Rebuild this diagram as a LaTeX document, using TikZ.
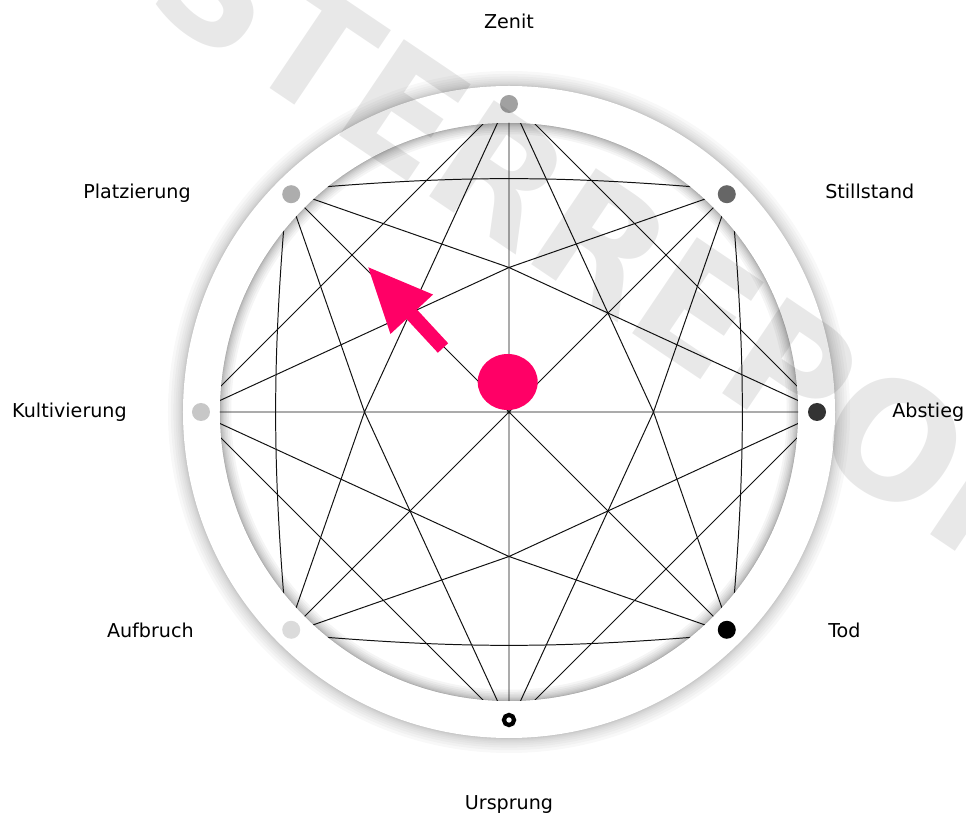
\documentclass[tikz,border=0pt]{standalone}
\usepackage{fontspec}
\setmainfont{DejaVu Sans}
\setsansfont{DejaVu Sans}
\newfontfamily\wmfont{DejaVu Sans}
\usetikzlibrary{positioning}
\definecolor{hot}{HTML}{FF0066}
\definecolor{ink}{HTML}{111111}
\tikzset{
  chord/.style={draw=ink,line width=0.7pt},
  dot/.style={circle,fill=#1,inner sep=0pt,minimum size=12.8pt},
  dot/.default=black,
  lbl/.style={font=\fontsize{13.6}{16}\selectfont,inner sep=0pt},
}

\begin{document}
\begin{tikzpicture}[x=0.025cm,y=0.025cm]
  \useasboundingbox (-509,-402) rectangle (457,412);
  % soft shadow round the ring
  \foreach \i in {1,...,10}
    \fill[black,opacity=0.026] (0,0) circle ({326+0.15*\i*\i});
  \fill[white] (0,0) circle (326);
  \begin{scope}
    \clip (0,0) circle (289);
    \foreach \i in {1,...,10}
      \draw[black,opacity=0.04,line width=0.16pt*\i*\i] (0,0) circle (289);
  \end{scope}

  % end points of the chords
  \coordinate (zen) at (90:314);
  \coordinate (sti) at (45:314);
  \coordinate (abs) at (0:314);
  \coordinate (tod) at (-45:314);
  \coordinate (urs) at (-90:314);
  \coordinate (auf) at (-135:314);
  \coordinate (kul) at (180:314);
  \coordinate (pla) at (135:314);
  \coordinate (vt) at (0,144.5);
  \coordinate (vr) at (144.5,0);
  \coordinate (vb) at (0,-144.5);
  \coordinate (vl) at (-144.5,0);

  \begin{scope}
    \clip (0,0) circle (289);
    \draw[chord] (zen) -- (urs) (kul) -- (abs) (pla) -- (tod) (sti) -- (auf);
    \draw[chord] (zen) -- (kul) -- (urs) -- (abs) -- cycle;
    \draw[chord] (pla) to[bend left=5] (sti) to[bend left=5] (tod)
                       to[bend left=5] (auf) to[bend left=5] (pla);
    \draw[chord] (pla) -- (vt) -- (sti) (kul) -- (vt) -- (abs);
    \draw[chord] (zen) -- (vl) -- (urs) (pla) -- (vl) -- (auf);
    \draw[chord] (auf) -- (vb) -- (tod) (kul) -- (vb) -- (abs);
    \draw[chord] (zen) -- (vr) -- (urs) (sti) -- (vr) -- (tod);
  \end{scope}

  % phases on the ring
  \node[dot=black!37] (zen-d) at (90:308) {};
  \node[dot=black!60] (sti-d) at (45:308) {};
  \node[dot=black!80] (abs-d) at (0:308) {};
  \node[dot] (tod-d) at (-45:308) {};
  \node[circle,draw=black,fill=white,line width=3pt,inner sep=0pt,minimum size=7.2pt] (urs-d) at (-90:308) {};
  \node[dot=black!14] (auf-d) at (-135:308) {};
  \node[dot=black!22] (kul-d) at (180:308) {};
  \node[dot=black!32] (pla-d) at (135:308) {};

  \node[lbl,anchor=base] (zen-l) at (0,383) {Zenit};
  \node[lbl,anchor=base west] (sti-l) at (316,213) {Stillstand};
  \node[lbl,anchor=base west] (abs-l) at (383,-6) {Abstieg};
  \node[lbl,anchor=base west] (tod-l) at (319,-226) {Tod};
  \node[lbl,anchor=base] (urs-l) at (0,-397) {Ursprung};
  \node[lbl,anchor=base east] (auf-l) at (-315,-226) {Aufbruch};
  \node[lbl,anchor=base east] (kul-l) at (-382,-6) {Kultivierung};
  \node[lbl,anchor=base east] (pla-l) at (-318,213) {Platzierung};

  % current position and direction
  \fill[hot] (-1.3,30) ellipse (30 and 28);
  \fill[hot,shift={(-66,64)},rotate=132.8]
    (0,-7) -- (46,-7) -- (46,-29) -- (110,0) -- (46,29) -- (46,7) -- (0,7) -- cycle;

  \node[text=black,opacity=0.09,rotate=-34,inner sep=0pt,
        font=\wmfont\bfseries\fontsize{113}{118}\selectfont] (wm) at (28,213) {MUSTERREPORT};
\end{tikzpicture}
\end{document}
